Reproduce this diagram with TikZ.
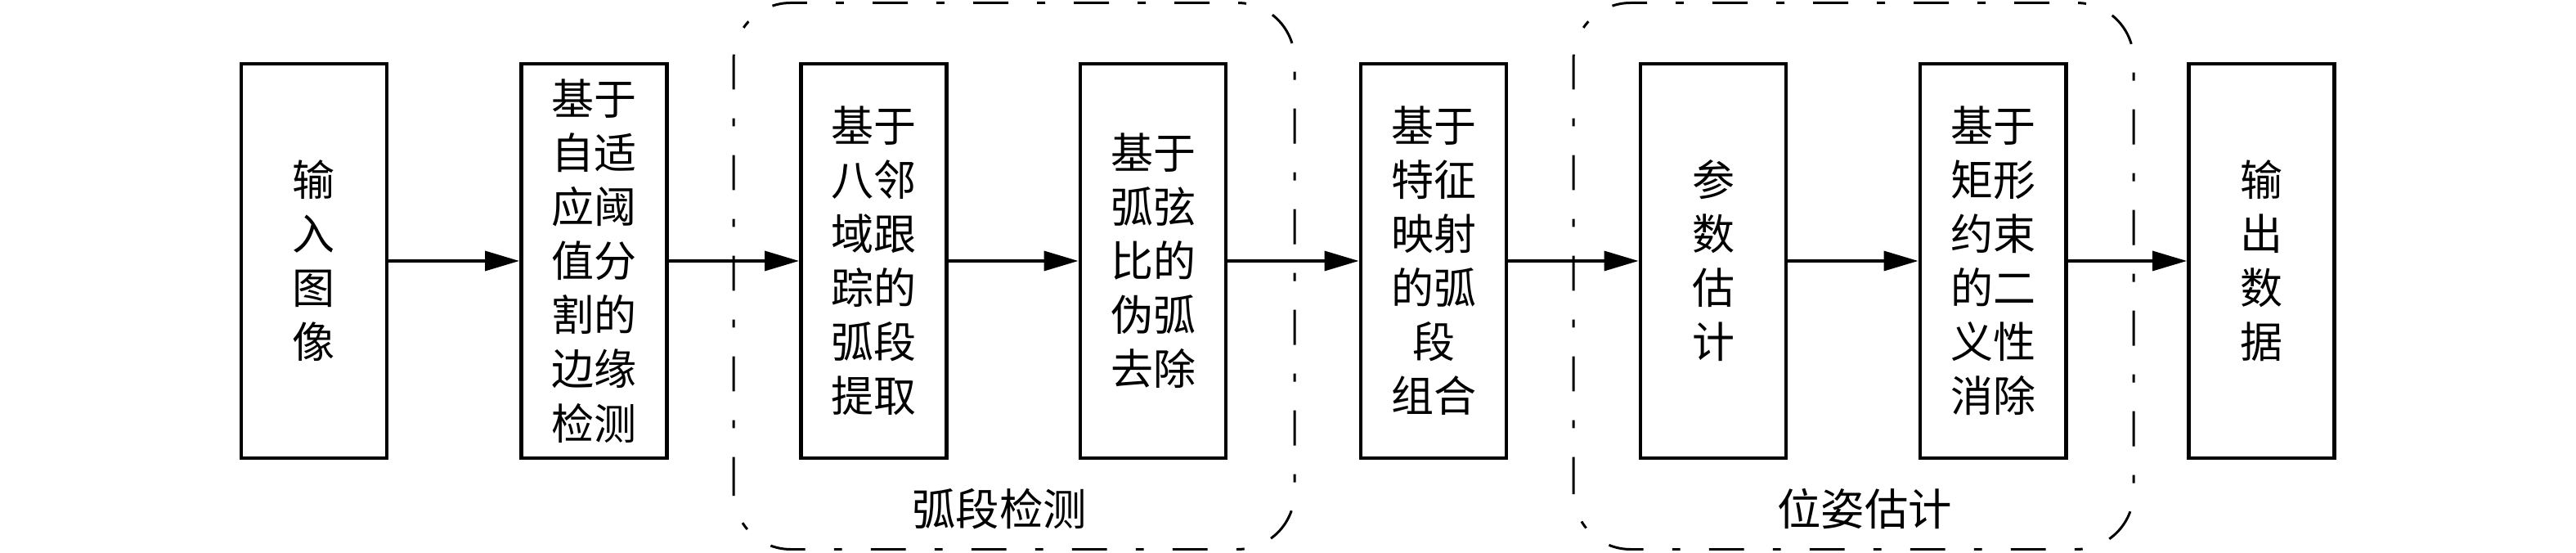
\documentclass[tikz,border=0pt]{standalone}
\usepackage{fontspec}
\newfontfamily\cjk{Noto Sans CJK SC}
\usetikzlibrary{arrows.meta}
\begin{document}
\begin{tikzpicture}[
    blk/.style={draw, line width=1.4pt, minimum width=1.78cm, minimum height=4.82cm,
      inner sep=0pt, align=center, font=\cjk\fontsize{14.8pt}{18.8pt}\selectfont},
    arr/.style={line width=1pt, -{Triangle[length=4.2mm, width=2.4mm]}},
    grp/.style={line width=0.85pt, rounded corners=0.7cm,
      dash pattern=on 12.2pt off 10pt on 2.8pt off 10pt},
    grplabel/.style={inner sep=0pt, font=\cjk\fontsize{15.2pt}{18pt}\selectfont}]
  \useasboundingbox (0,0) rectangle (31.5,6.76);
  % processing steps
  \foreach \name/\x/\txt in {
      in/3.84/{输\\入\\图\\像},
      edge/7.265/{基于\\自适\\应阈\\值分\\割的\\边缘\\检测},
      track/10.685/{基于\\八邻\\域跟\\踪的\\弧段\\提取},
      pseudo/14.10/{基于\\弧弦\\比的\\伪弧\\去除},
      comb/17.53/{基于\\特征\\映射\\的弧\\段\\组合},
      param/20.95/{参\\数\\估\\计},
      ambig/24.37/{基于\\矩形\\约束\\的二\\义性\\消除},
      out/27.655/{输\\出\\数\\据}}
    \node[blk] (\name) at (\x,3.57) {\txt};
  \foreach \a/\b in {in/edge, edge/track, track/pseudo, pseudo/comb,
      comb/param, param/ambig, ambig/out}
    \draw[arr] (\a) -- (\b);
  % stage frames
  \draw[grp] (8.97,0.045) rectangle (15.83,6.725);
  \draw[grp] (19.24,0.045) rectangle (26.09,6.725);
  \node[grplabel] (arcdet) at (12.22,0.54) {弧段检测};
  \node[grplabel] (pose) at (22.80,0.54) {位姿估计};
\end{tikzpicture}
\end{document}
